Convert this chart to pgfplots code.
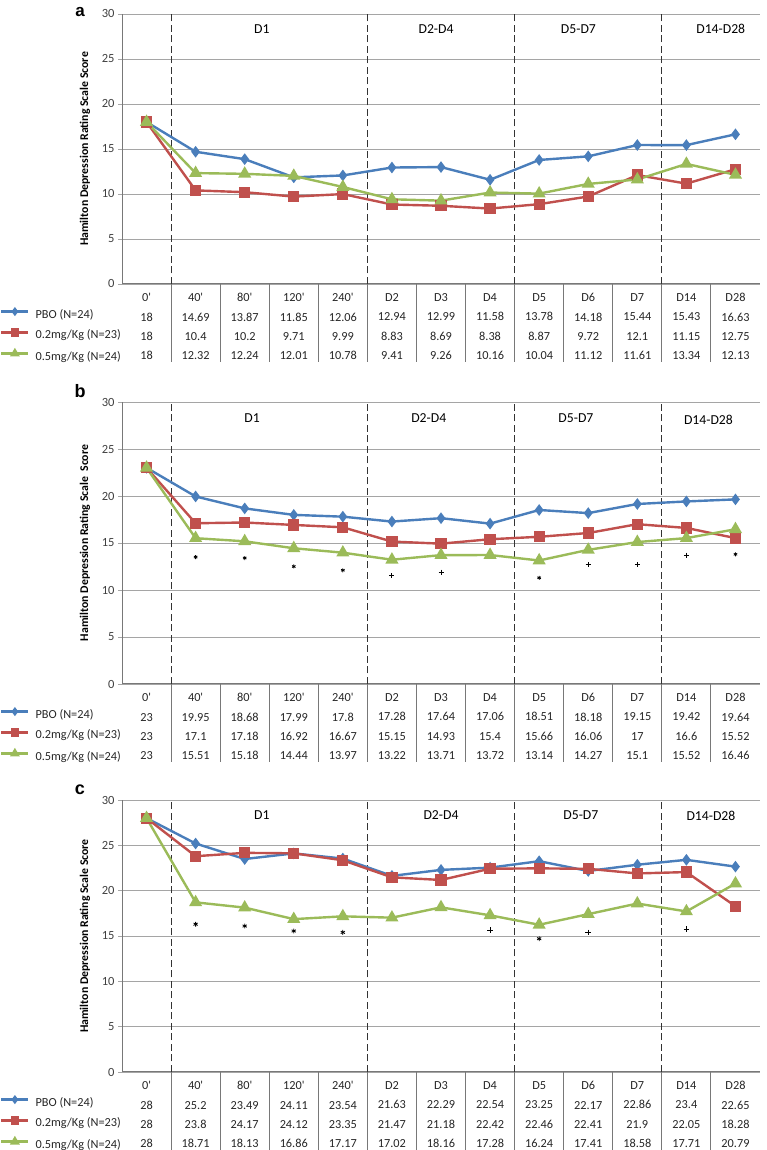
\documentclass[border=0pt]{standalone}
\usepackage{pgfplots}
\pgfplotsset{compat=1.18}
\usepackage{fontspec}
\setmainfont{Carlito}
\newfontfamily\arialfont{Liberation Sans}
\definecolor{cblue}{RGB}{74,126,187}
\definecolor{cred}{RGB}{192,80,77}
\definecolor{cgreen}{RGB}{155,187,89}
\definecolor{cgrid}{RGB}{165,165,165}
\definecolor{caxis}{RGB}{120,120,120}
\newcommand{\q}{\textquotesingle}

\pgfplotsset{
 panel/.style={
   scale only axis, width=638pt,
   xmin=-0.5, xmax=12.5, ymin=0, ymax=30,
   axis x line=bottom, axis y line=left,
   axis line style={-, draw=caxis, line width=1pt},
   xtick={0,...,12}, major x tick style={draw=none},
   ytick={0,5,...,30}, ymajorgrids, grid style={cgrid, line width=0.9pt},
   major y tick style={draw=cgrid, line width=0.9pt}, tick align=outside, major tick length=4pt,
   yticklabel style={font=\fontsize{12.5}{15}\selectfont, text=black!75},
   /pgf/number format/assume math mode=true,
   xticklabel style={align=center, font=\fontsize{12.3}{19.3}\selectfont, yshift=-2pt, text=black!85},
   ylabel={Hamilton Depression Rating Scale Score},
   ylabel style={at={(axis description cs:-0.058,0.5)}, anchor=center, font=\bfseries\fontsize{11.8}{13}\selectfont},
   legend style={at={(axis description cs:0,0)}, anchor=north west, xshift=-122pt, yshift=-24.8pt, draw=none, fill=none, inner sep=0pt,
     nodes={inner sep=0pt, text height=8pt, text depth=2pt, font=\fontsize{12.3}{14}\selectfont, text=black!85}, row sep=9.3pt, column sep=6pt},
   legend cell align=left,
   legend image code/.code={\draw[mark=none] (0pt,3.5pt) -- (27pt,3.5pt); \draw plot coordinates {(13.5pt,3.5pt)};},
   clip=false,
 },
 pbo/.style={cblue, line width=2.4pt, mark=diamond*, mark size=3.9pt, mark options={solid, fill=cblue}, legend image post style={mark size=2.6pt}},
 lo/.style={cred, line width=2.4pt, mark=square*, mark size=4.4pt, mark options={solid, fill=cred}, legend image post style={mark size=3pt}},
 hi/.style={cgreen, line width=2.4pt, mark=triangle*, mark size=5.2pt, mark options={solid, fill=cgreen}, legend image post style={mark size=3.4pt}},
}

\newcommand{\panelextras}{%
  \pgfplotsinvokeforeach{0.5,1.5,2.5,3.5,4.5,5.5,6.5,7.5,8.5,9.5,10.5,11.5}{\draw[caxis, line width=1pt] (axis cs:##1,0) -- ++(0pt,-78pt);}
  \pgfplotsinvokeforeach{0.5,4.5,7.5,10.5}{\draw[black!80, line width=1.1pt, dash pattern=on 7pt off 3.5pt] (axis cs:##1,0) -- (axis cs:##1,30);}
}

\begin{document}
\begin{tikzpicture}
\useasboundingbox (0,0) rectangle (766pt,1150pt);

% ---------------- panel a
\begin{axis}[panel, height=270pt, at={(122pt,866pt)}, anchor=south west,
  xticklabels={{0\q\\18\\18\\18},{40\q\\14.69\\10.4\\12.32},{80\q\\13.87\\10.2\\12.24},{120\q\\11.85\\9.71\\12.01},{240\q\\12.06\\9.99\\10.78},{D2\\12.94\\8.83\\9.41},{D3\\12.99\\8.69\\9.26},{D4\\11.58\\8.38\\10.16},{D5\\13.78\\8.87\\10.04},{D6\\14.18\\9.72\\11.12},{D7\\15.44\\12.1\\11.61},{D14\\15.43\\11.15\\13.34},{D28\\16.63\\12.75\\12.13}}]
\panelextras
\addplot[pbo] coordinates {(0,18) (1,14.69) (2,13.87) (3,11.85) (4,12.06) (5,12.94) (6,12.99) (7,11.58) (8,13.78) (9,14.18) (10,15.44) (11,15.43) (12,16.63)};
\addlegendentry{PBO (N=24)}
\addplot[lo] coordinates {(0,18) (1,10.4) (2,10.2) (3,9.71) (4,9.99) (5,8.83) (6,8.69) (7,8.38) (8,8.87) (9,9.72) (10,12.1) (11,11.15) (12,12.75)};
\addlegendentry{0.2mg/Kg (N=23)}
\addplot[hi] coordinates {(0,18) (1,12.32) (2,12.24) (3,12.01) (4,10.78) (5,9.41) (6,9.26) (7,10.16) (8,10.04) (9,11.12) (10,11.61) (11,13.34) (12,12.13)};
\addlegendentry{0.5mg/Kg (N=24)}
\node[font=\fontsize{13.7}{16}\selectfont] at (axis cs:2.35,28.3) {D1};
\node[font=\fontsize{13.7}{16}\selectfont] at (axis cs:5.9,28.3) {D2-D4};
\node[font=\fontsize{13.7}{16}\selectfont] at (axis cs:8.8,28.3) {D5-D7};
\node[font=\fontsize{13.7}{16}\selectfont] at (axis cs:11.7,28.3) {D14-D28};
\end{axis}
\node[font=\arialfont\bfseries\fontsize{17}{18}\selectfont, anchor=base] at (80pt,1133pt) {a};

% ---------------- panel b
\begin{axis}[panel, height=282pt, at={(122pt,466pt)}, anchor=south west,
  ylabel={Hamilton Depression Rating Scale\ \ Score},
  xticklabels={{0\q\\23\\23\\23},{40\q\\19.95\\17.1\\15.51},{80\q\\18.68\\17.18\\15.18},{120\q\\17.99\\16.92\\14.44},{240\q\\17.8\\16.67\\13.97},{D2\\17.28\\15.15\\13.22},{D3\\17.64\\14.93\\13.71},{D4\\17.06\\15.4\\13.72},{D5\\18.51\\15.66\\13.14},{D6\\18.18\\16.06\\14.27},{D7\\19.15\\17\\15.1},{D14\\19.42\\16.6\\15.52},{D28\\19.64\\15.52\\16.46}}]
\panelextras
\addplot[pbo] coordinates {(0,23) (1,19.95) (2,18.68) (3,17.99) (4,17.8) (5,17.28) (6,17.64) (7,17.06) (8,18.51) (9,18.18) (10,19.15) (11,19.42) (12,19.64)};
\addlegendentry{PBO (N=24)}
\addplot[lo] coordinates {(0,23) (1,17.1) (2,17.18) (3,16.92) (4,16.67) (5,15.15) (6,14.93) (7,15.4) (8,15.66) (9,16.06) (10,17) (11,16.6) (12,15.52)};
\addlegendentry{0.2mg/Kg (N=23)}
\addplot[hi] coordinates {(0,23) (1,15.51) (2,15.18) (3,14.44) (4,13.97) (5,13.22) (6,13.71) (7,13.72) (8,13.14) (9,14.27) (10,15.1) (11,15.52) (12,16.46)};
\addlegendentry{0.5mg/Kg (N=24)}
\addplot[forget plot, only marks, black, mark=asterisk, mark size=2pt, line width=0.8pt] coordinates {(1,13.5) (2,13.4) (3,12.5) (4,12.1) (8,11.3) (12,13.8)};
\addplot[forget plot, only marks, black, mark=+, mark size=2.5pt, line width=0.9pt] coordinates {(5,11.5) (6,11.9) (9,12.7) (10,12.7) (11,13.7)};
\node[font=\fontsize{13.7}{16}\selectfont] at (axis cs:2.15,28.3) {D1};
\node[font=\fontsize{13.7}{16}\selectfont] at (axis cs:5.75,28.3) {D2-D4};
\node[font=\fontsize{13.7}{16}\selectfont] at (axis cs:8.75,28.3) {D5-D7};
\node[font=\fontsize{13.7}{16}\selectfont] at (axis cs:11.45,28.1) {D14-D28};
\end{axis}
\node[font=\arialfont\bfseries\fontsize{18}{20}\selectfont] at (80pt,758.5pt) {b};

% ---------------- panel c
\begin{axis}[panel, height=272pt, at={(122pt,78pt)}, anchor=south west,
  xticklabels={{0\q\\28\\28\\28},{40\q\\25.2\\23.8\\18.71},{80\q\\23.49\\24.17\\18.13},{120\q\\24.11\\24.12\\16.86},{240\q\\23.54\\23.35\\17.17},{D2\\21.63\\21.47\\17.02},{D3\\22.29\\21.18\\18.16},{D4\\22.54\\22.42\\17.28},{D5\\23.25\\22.46\\16.24},{D6\\22.17\\22.41\\17.41},{D7\\22.86\\21.9\\18.58},{D14\\23.4\\22.05\\17.71},{D28\\22.65\\18.28\\20.79}}]
\panelextras
\addplot[pbo] coordinates {(0,28) (1,25.2) (2,23.49) (3,24.11) (4,23.54) (5,21.63) (6,22.29) (7,22.54) (8,23.25) (9,22.17) (10,22.86) (11,23.4) (12,22.65)};
\addlegendentry{PBO (N=24)}
\addplot[lo] coordinates {(0,28) (1,23.8) (2,24.17) (3,24.12) (4,23.35) (5,21.47) (6,21.18) (7,22.42) (8,22.46) (9,22.41) (10,21.9) (11,22.05) (12,18.28)};
\addlegendentry{0.2mg/Kg (N=23)}
\addplot[hi] coordinates {(0,28) (1,18.71) (2,18.13) (3,16.86) (4,17.17) (5,17.02) (6,18.16) (7,17.28) (8,16.24) (9,17.41) (10,18.58) (11,17.71) (12,20.79)};
\addlegendentry{0.5mg/Kg (N=24)}
\addplot[forget plot, only marks, black, mark=asterisk, mark size=2.4pt, line width=0.8pt] coordinates {(1,16.3) (2,16.1) (3,15.55) (4,15.4) (8,14.7)};
\addplot[forget plot, only marks, black, mark=+, mark size=2.8pt, line width=0.9pt] coordinates {(7,15.65) (9,15.4) (11,15.75)};
\node[font=\fontsize{13.7}{16}\selectfont] at (axis cs:2.35,28.3) {D1};
\node[font=\fontsize{13.7}{16}\selectfont] at (axis cs:6.0,28.3) {D2-D4};
\node[font=\fontsize{13.7}{16}\selectfont] at (axis cs:8.85,28.3) {D5-D7};
\node[font=\fontsize{13.7}{16}\selectfont] at (axis cs:11.5,28.3) {D14-D28};
\end{axis}
\node[font=\arialfont\bfseries\fontsize{18}{20}\selectfont] at (80pt,360pt) {c};
\end{tikzpicture}
\end{document}
